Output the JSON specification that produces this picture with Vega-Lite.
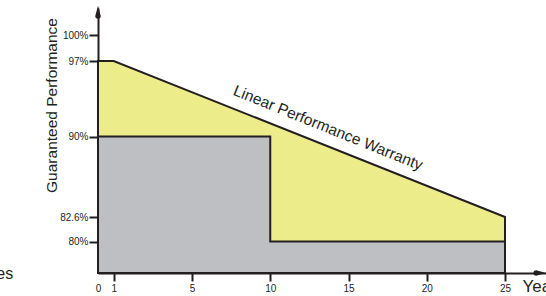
{
  "$schema": "https://vega.github.io/schema/vega-lite/v6.json",
  "autosize": {"type": "none"},
  "width": 448,
  "height": 265,
  "padding": {"left": 98, "top": 8, "right": 0, "bottom": 23},
  "background": "white",
  "config": {
    "view": {"stroke": null},
    "font": "Liberation Sans"
  },
  "datasets": {
    "warranty": [
      {"year": 0, "perf": 97},
      {"year": 1, "perf": 97},
      {"year": 25, "perf": 82.6}
    ],
    "guarantee": [
      {"year": 0, "perf": 90},
      {"year": 10, "perf": 90},
      {"year": 10, "perf": 80},
      {"year": 25, "perf": 80}
    ],
    "labels": [
      {"label": "Linear Performance Warranty", "year": 13.7, "perf": 90.8},
      {"label": "es", "year": -5.4, "perf": 76.95}
    ],
    "arrows": [
      {"axis": "y", "end": "base", "year": 0, "perf": 102.1},
      {"axis": "y", "end": "tip", "year": 0, "perf": 103.22},
      {"axis": "x", "end": "base", "year": 26.98, "perf": 77},
      {"axis": "x", "end": "tip", "year": 27.6, "perf": 77}
    ]
  },
  "encoding": {
    "x": {
      "field": "year",
      "type": "quantitative",
      "scale": {"domain": [0, 1, 5, 25, 27.6], "range": [0, 15.7, 94, 407, 448], "zero": false, "nice": false},
      "axis": {
        "values": [0, 1, 5, 10, 15, 20, 25],
        "grid": false,
        "domainColor": "#231F20",
        "domainWidth": 2,
        "tickColor": "#231F20",
        "tickWidth": 2,
        "tickSize": 8,
        "tickOpacity": {"condition": {"test": "datum.value === 0", "value": 0}, "value": 1},
        "labelFont": "Liberation Sans",
        "labelFontSize": 10,
        "labelColor": "#231F20",
        "labelPadding": 2,
        "labelFlush": false,
        "title": "Years",
        "titleFont": "Liberation Sans",
        "titleFontSize": 17,
        "titleFontWeight": "normal",
        "titleColor": "#231F20",
        "titleAlign": "left",
        "titleBaseline": "middle",
        "titleAnchor": null,
        "titleX": 424,
        "titleY": 13
      }
    },
    "y": {
      "field": "perf",
      "type": "quantitative",
      "scale": {"domain": [77, 80, 82.6, 90, 97, 100, 103], "range": [265, 233.5, 209, 128.5, 53, 27, 0], "zero": false, "nice": false},
      "axis": {
        "values": [80, 82.6, 90, 97, 100],
        "labelExpr": "datum.value + '%'",
        "grid": false,
        "domainColor": "#231F20",
        "domainWidth": 2,
        "tickColor": "#231F20",
        "tickWidth": 2,
        "tickSize": 9,
        "labelFont": "Liberation Sans",
        "labelFontSize": 10,
        "labelColor": "#231F20",
        "labelPadding": 1,
        "title": "Guaranteed Performance",
        "titleFont": "Liberation Sans",
        "titleFontSize": 15.5,
        "titleFontWeight": "normal",
        "titleColor": "#231F20",
        "titleAngle": -90,
        "titleAlign": "center",
        "titleBaseline": "middle",
        "titleAnchor": null,
        "titleX": -47,
        "titleY": 97
      }
    }
  },
  "layer": [
    {
      "data": {"name": "warranty"},
      "mark": {"type": "area", "fill": "#EDEC8B", "stroke": "#231F20", "strokeWidth": 2, "interpolate": "linear"},
      "encoding": {"y2": {"datum": 77}}
    },
    {
      "data": {"name": "guarantee"},
      "mark": {"type": "area", "fill": "#BDBFC2", "stroke": "#231F20", "strokeWidth": 2, "interpolate": "linear"},
      "encoding": {"y2": {"datum": 77}}
    },
    {
      "data": {"name": "labels"},
      "transform": [{"filter": "datum.label !== 'es'"}],
      "mark": {"type": "text", "font": "Liberation Sans", "fontSize": 15.5, "angle": 22, "align": "center", "baseline": "middle", "color": "#231F20"},
      "encoding": {"text": {"field": "label"}}
    },
    {
      "data": {"name": "labels"},
      "transform": [{"filter": "datum.label === 'es'"}],
      "mark": {"type": "text", "font": "Liberation Sans", "fontSize": 16, "align": "right", "baseline": "middle", "color": "#231F20"},
      "encoding": {"text": {"field": "label"}}
    },
    {
      "data": {"name": "arrows"},
      "mark": {"type": "trail", "color": "#231F20", "opacity": 1},
      "encoding": {
        "detail": {"field": "axis", "type": "nominal"},
        "order": {"field": "end", "type": "nominal"},
        "size": {"field": "end", "type": "nominal", "scale": {"domain": ["base", "tip"], "range": [5.5, 0.2]}, "legend": null}
      }
    }
  ]
}
